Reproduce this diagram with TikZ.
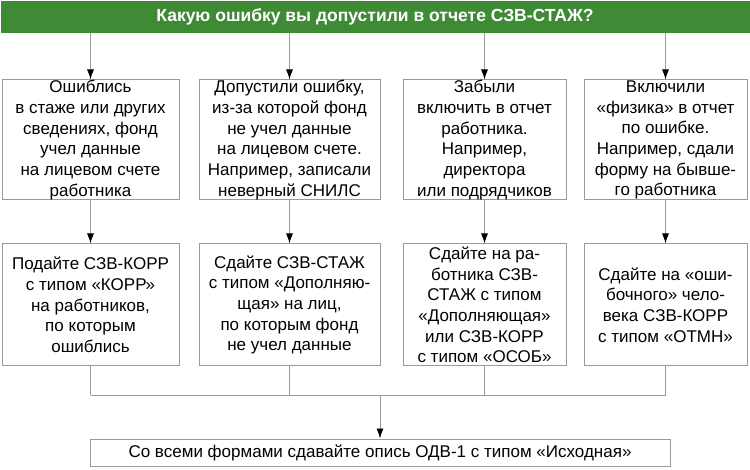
\documentclass[tikz,border=0pt]{standalone}
\usepackage{fontspec}
\setmainfont{Liberation Sans}
\usetikzlibrary{positioning, arrows.meta}
\definecolor{bannergreen}{HTML}{3F8A35}
\definecolor{linegray}{HTML}{9A9A9A}
\tikzset{
  box/.style={rectangle, draw=linegray, line width=1pt, align=center, inner sep=0pt, font=\fontsize{17}{20.7}\selectfont},
  link/.style={draw=linegray, line width=0.9pt},
  arr/.style={link, -{Latex[length=10pt, width=7pt, color=black]}}
}

\begin{document}
\begin{tikzpicture}[x=1pt, y=1pt]
\useasboundingbox (0,0) rectangle (750,469);
% The question on top.
\node at (375,452) [rectangle, fill=bannergreen, minimum width=749pt, minimum height=32pt, text=white, font=\bfseries\fontsize{17.5}{20}\selectfont] (q) {Какую ошибку вы допустили в отчете СЗВ-СТАЖ?};

% Draw the errors.
\node at (90.5,329) [box, minimum width=177pt, minimum height=120pt] (e1) {Ошиблись\\в стаже или других\\сведениях, фонд\\учел данные\\на лицевом счете\\работника};
\node at (289.5,329) [box, minimum width=181pt, minimum height=120pt] (e2) {Допустили ошибку,\\из-за которой фонд\\не учел данные\\на лицевом счете.\\Например, записали\\неверный СНИЛС};
\node at (484.5,329) [box, minimum width=163pt, minimum height=120pt] (e3) {Забыли\\включить в отчет\\работника.\\Например,\\директора\\или подрядчиков};
\node at (665.5,329) [box, minimum width=163pt, minimum height=120pt] (e4) {Включили\\«физика» в отчет\\по ошибке.\\Например, сдали\\форму на бывше-\\го работника};

% Draw the fixes.
\node[box, below=43pt of e1, minimum width=177pt, minimum height=122pt] (f1) {Подайте СЗВ-КОРР\\с типом «КОРР»\\на работников,\\по которым\\ошиблись};
\node[box, below=43pt of e2, minimum width=181pt, minimum height=122pt] (f2) {Сдайте СЗВ-СТАЖ\\с типом «Дополняю-\\щая» на лиц,\\по которым фонд\\не учел данные};
\node[box, below=43pt of e3, minimum width=163pt, minimum height=122pt] (f3) {Сдайте на ра-\\ботника СЗВ-\\СТАЖ с типом\\«Дополняющая»\\или СЗВ-КОРР\\с типом «ОСОБ»};
\node[box, below=43pt of e4, minimum width=163pt, minimum height=122pt] (f4) {Сдайте на «оши-\\бочного» чело-\\века СЗВ-КОРР\\с типом «ОТМН»};

% The common step.
\node at (380,16.5) [box, minimum width=580pt, minimum height=27pt] (r) {Со всеми формами сдавайте опись ОДВ-1 с типом «Исходная»};
\coordinate (j) at (380,74);

% Connect vertices with edges
\foreach \n in {1,...,4} {
  \draw[arr] (q.south -| e\n) -- (e\n);
  \draw[arr] (e\n) -- (f\n);
  \draw[link] (f\n.south) -- (f\n.south |- j);
}
\draw[link] (f1.south |- j) -- (f4.south |- j);
\draw[arr] (j) -- (r);
\end{tikzpicture}
\end{document}
